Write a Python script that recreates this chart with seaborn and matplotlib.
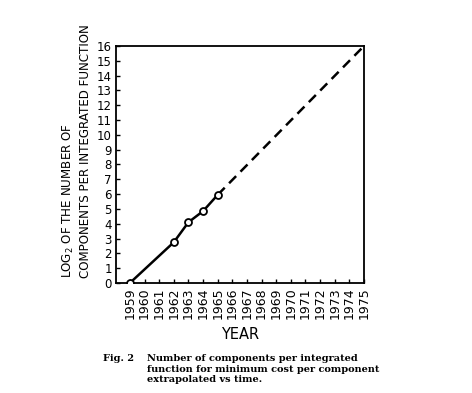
import numpy as np
import pandas as pd
import matplotlib
matplotlib.use("Agg")
import matplotlib.pyplot as plt
import seaborn as sns

# ===============================
# DATA
# ===============================
years_measured = [1959, 1962, 1963, 1964, 1965]
log2_measured = [0.0, 2.75, 4.1, 4.85, 5.95]
years_extrap = [1965, 1975]
log2_extrap = [5.95, 16.0]

year_ticks = list(range(1959, 1976))
log_ticks = list(range(0, 17))

measured = pd.DataFrame({"year": years_measured, "log2": log2_measured})
extrap = pd.DataFrame({"year": years_extrap, "log2": log2_extrap})

sns.set_style("white")
plt.rcParams["font.family"] = ["DejaVu Sans"]
plt.rcParams["text.color"] = "black"
plt.rcParams["axes.labelcolor"] = "black"
plt.rcParams["xtick.color"] = "black"
plt.rcParams["ytick.color"] = "black"

fig = plt.figure(figsize=(4.72, 3.93), dpi=100)
ax = fig.add_axes([0.2458, 0.2800, 0.5254, 0.6030])

# measured points, solid line with open circles
sns.lineplot(data=measured, x="year", y="log2", ax=ax, color="black",
             linewidth=1.8, marker="o", markersize=5,
             markerfacecolor="white", markeredgecolor="black",
             markeredgewidth=1.3, zorder=3)
# extrapolation, dashed
sns.lineplot(data=extrap, x="year", y="log2", ax=ax, color="black",
             linewidth=1.8, linestyle=(0, (4, 2.5)), zorder=2)

ax.set_xlim(1958.05, 1975)
ax.set_ylim(0, 16)
ax.set_xticks(year_ticks)
ax.set_xticklabels([str(y) for y in year_ticks], rotation=90, fontsize=9)
ax.set_yticks(log_ticks)
ax.set_yticklabels([str(v) for v in log_ticks], fontsize=8.5)
ax.tick_params(direction="in", length=3, width=1, color="black",
               labelcolor="black", left=True, bottom=True, pad=3)
for s in ax.spines.values():
    s.set_color("black")
    s.set_linewidth(1.3)

ax.set_xlabel("YEAR", fontsize=10.5, labelpad=6, color="black")
ax.set_ylabel("")

# two-line y axis title, bottom aligned like the original lettering
fig.text(68 / 472, 1 - 278 / 393, r"LOG$_2$ OF THE NUMBER OF",
         rotation=90, ha="center", va="bottom", fontsize=8.6)
fig.text(86 / 472, 1 - 278 / 393, "COMPONENTS PER INTEGRATED FUNCTION",
         rotation=90, ha="center", va="bottom", fontsize=8.6)

# caption
cap_font = dict(family="DejaVu Serif", fontweight="bold", fontsize=7.0)
fig.text(103 / 472, 1 - 361 / 393, "Fig. 2", ha="left", va="baseline", **cap_font)
caption = ["Number of components per integrated",
           "function for minimum cost per component",
           "extrapolated vs time."]
for i, line in enumerate(caption):
    fig.text(147 / 472, 1 - (361 + 10.5 * i) / 393, line,
             ha="left", va="baseline", **cap_font)

fig.savefig("out.png", dpi=100)
